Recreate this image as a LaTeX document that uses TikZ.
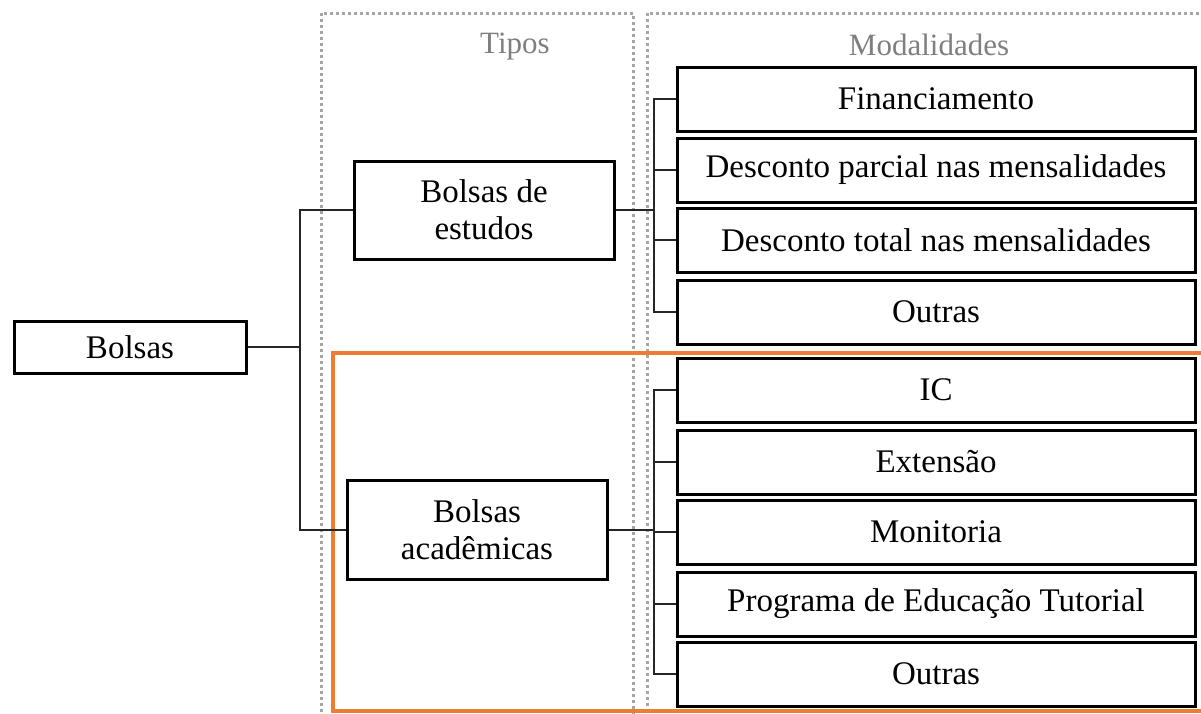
\documentclass[tikz,border=0pt]{standalone}
\usepackage{fontspec}
\setmainfont{Liberation Serif}
\definecolor{orangeline}{HTML}{ED7D31}
\definecolor{labelgray}{HTML}{7F7F7F}
\definecolor{dotgray}{HTML}{A6A6A6}
\tikzset{
  boxnode/.style={draw=black, line width=3pt, fill=white, inner sep=0pt, align=center,
    font=\fontsize{33}{37}\selectfont},
  modbox/.style={boxnode, minimum width=518pt, minimum height=64pt},
  conn/.style={line width=1.4pt, draw=black!85},
  dotframe/.style={draw=dotgray, line width=3pt, dash pattern=on 3pt off 3pt},
  headlabel/.style={text=labelgray, font=\fontsize{31}{36}\selectfont, inner sep=0pt}
}
\begin{document}
\begin{tikzpicture}[x=1pt,y=-1pt]
\useasboundingbox (0,0) rectangle (1201,713);
\fill[white] (0,0) rectangle (1201,713);
% dotted frames
\draw[dotframe] (321,760) -- (321,13) -- (633,13) -- (633,760);
\draw[dotframe] (647,760) -- (647,13) -- (1240,13);
\node[headlabel] (tipos) at (515,47) {Tipos};
\node[headlabel] (modal) at (929,45) {Modalidades};
% orange frame
\draw[orangeline, line width=3.2pt] (1240,353) -- (333,353) -- (333,711) -- (1240,711);
% boxes
\node[boxnode, minimum width=232pt, minimum height=52pt] (bolsas) at (130,347) {Bolsas};
\node[boxnode, minimum width=260pt, minimum height=98pt] (estudos) at (484,210) {Bolsas de\\estudos};
\node[boxnode, minimum width=260pt, minimum height=99pt] (acad) at (477,530) {Bolsas\\acadêmicas};
\node[modbox] (m1) at (936,99) {Financiamento};
\node[modbox] (m2) at (936,170) {Desconto parcial nas mensalidades};
\node[modbox] (m3) at (936,240) {Desconto total nas mensalidades};
\node[modbox] (m4) at (936,312) {Outras};
\node[modbox] (m5) at (936,390) {IC};
\node[modbox] (m6) at (936,462) {Extensão};
\node[modbox] (m7) at (936,532) {Monitoria};
\node[modbox] (m8) at (936,604) {Programa de Educação Tutorial};
\node[modbox] (m9) at (936,674) {Outras};
% connectors
\coordinate (j1) at (300,347);
\coordinate (j2) at (654,210);
\coordinate (j3) at (654,530);
\draw[conn] (bolsas.east) -- (j1);
\draw[conn] (estudos.west) -| (j1) |- (acad.west);
\draw[conn] (estudos.east) -- (j2);
\draw[conn] (m1.west) -| (j2) |- (m4.west);
\draw[conn] (m2.west) -- (m2.west -| j2);
\draw[conn] (m3.west) -- (m3.west -| j2);
\draw[conn] (acad.east) -- (j3);
\draw[conn] (m5.west) -| (j3) |- (m9.west);
\draw[conn] (m6.west) -- (m6.west -| j3);
\draw[conn] (m7.west) -- (m7.west -| j3);
\draw[conn] (m8.west) -- (m8.west -| j3);
\end{tikzpicture}
\end{document}
